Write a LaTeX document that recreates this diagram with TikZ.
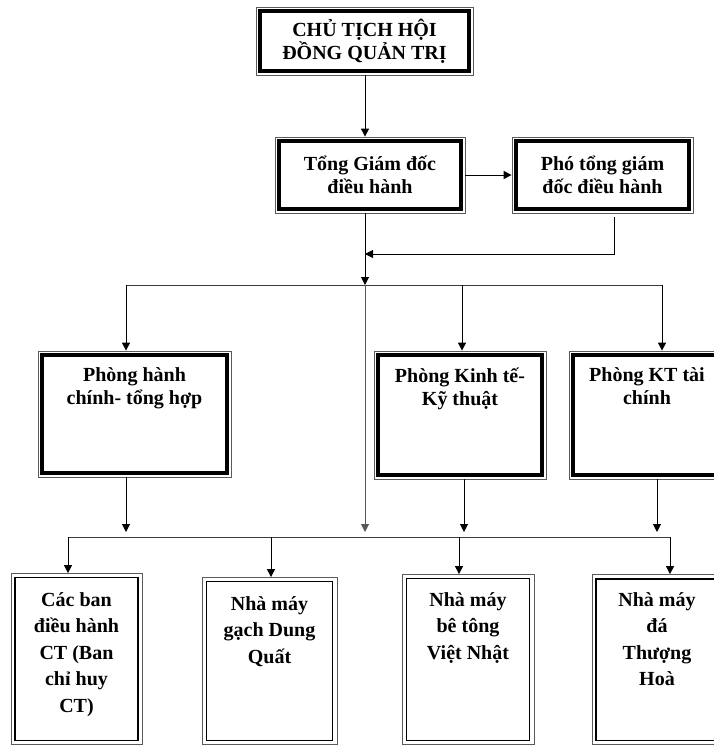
\documentclass[tikz,border=0pt]{standalone}
\usepackage{fontspec}
\setmainfont{Liberation Serif}
\usetikzlibrary{arrows.meta,positioning,calc}
\definecolor{frameG}{RGB}{90,90,90}
\definecolor{wireG}{RGB}{60,60,60}
% text at the top of a tall box
\newcommand{\toptext}[4]{\parbox[t][#1][t]{#2}{\centering\vspace*{#3}#4}}

\begin{document}
\begin{tikzpicture}[
  x=1pt, y=-1pt,
  font=\bfseries\fontsize{20}{23}\selectfont,
  frame/.style={draw=frameG, line width=0.8pt, inner sep=0pt, align=center},
  unit/.style={draw=frameG, line width=0.8pt, inner sep=0pt},
  arr/.style={-{Triangle[length=8pt,width=8pt]}, line width=1pt, draw=black},
  wire/.style={line width=1pt, draw=wireG}
]
\useasboundingbox (0,0) rectangle (714,747);

% management
\node[frame, minimum width=217, minimum height=68] (chair) at (364.5,41) {CHỦ TỊCH HỘI\\ĐỒNG QUẢN TRỊ};
\node[frame, minimum width=190, minimum height=76] (tgd) at (370,175) {Tổng Giám đốc\\điều hành};
\node[frame, minimum width=181, minimum height=76] (pho) at (602.5,175) {Phó tổng giám\\đốc điều hành};

% departments
\node[frame, minimum width=193, minimum height=126] (phc) at (134.5,414)
  {\toptext{126pt}{180pt}{17pt}{Phòng hành\\chính- tổng hợp}};
\node[frame, minimum width=172, minimum height=128] (ktkt) at (460,415)
  {\toptext{128pt}{160pt}{17pt}{Phòng Kinh tế-\\Kỹ thuật}};
\node[frame, minimum width=156, minimum height=128] (ktc) at (647,415)
  {\toptext{128pt}{146pt}{17pt}{Phòng KT tài\\chính}};

% units
\begin{scope}[font=\bfseries\fontsize{20}{26.5}\selectfont]
\node[unit, minimum width=131, minimum height=171] (ban) at (76.5,659)
  {\toptext{171pt}{122pt}{19pt}{Các ban\\điều hành\\CT (Ban\\chỉ huy\\CT)}};
\node[unit, minimum width=135, minimum height=167] (gach) at (269.5,661)
  {\toptext{167pt}{126pt}{19pt}{Nhà máy\\gạch Dung\\Quất}};
\node[unit, minimum width=132, minimum height=170] (betong) at (468,659.5)
  {\toptext{170pt}{122pt}{18pt}{Nhà máy\\bê tông\\Việt Nhật}};
\node[unit, minimum width=130, minimum height=170] (da) at (657,659.5)
  {\toptext{170pt}{120pt}{18pt}{Nhà máy\\đá\\Thượng\\Hoà}};
\end{scope}

% inner border lines
\foreach \n/\w in {chair/3.4,tgd/3.4,pho/3.4,phc/3.4,ktkt/3.4,ktc/3.4,ban/1.6,gach/0.9,betong/0.9,da/1.8}
  \draw[line width=\w pt] ([xshift=4.5pt,yshift=-4.5pt]\n.north west) rectangle ([xshift=-4.5pt,yshift=4.5pt]\n.south east);

% junctions
\coordinate (ret) at (365,254);
\coordinate (mid) at (365,285);
\coordinate (low) at (365,537);
\coordinate (h1w) at (126,285);
\coordinate (h1e) at (662,285);
\coordinate (h2w) at (68,537);
\coordinate (h2e) at (670,537);

% top part
\draw[arr] (chair.south -| mid) -- (tgd.north -| mid);
\draw[arr] (tgd.east) -- (pho.west);
\draw[arr] (tgd.south -| mid) -- (mid);
\draw[arr] ([xshift=11.5pt,yshift=-4pt]pho.south) |- (ret);

% first bus
\draw[wire] (h1w) -- (h1e);
\draw[arr] (h1w) -- (phc.north -| h1w);
\draw[arr] ([xshift=2pt]ktkt.north |- h1w) -- ([xshift=2pt]ktkt.north);
\draw[arr] (h1e) -- (ktc.north -| h1e);

% down to second bus
\draw[arr, draw=gray!70!black] (mid) -- ([yshift=5pt]low);
\draw[arr] (phc.south -| h1w) -- ([yshift=5pt]low -| h1w);
\draw[arr] ([xshift=4pt]ktkt.south) -- ([xshift=4pt,yshift=5pt]low -| ktkt.south);
\draw[arr] ([xshift=10pt]ktc.south) -- ([xshift=10pt,yshift=5pt]low -| ktc.south);

% second bus
\draw[wire] (h2w) -- (h2e);
\draw[arr] (h2w) -- (ban.north -| h2w);
\draw[arr] ([xshift=1.5pt]gach.north |- h2w) -- ([xshift=1.5pt]gach.north);
\draw[arr] ([xshift=-9pt]betong.north |- h2w) -- ([xshift=-9pt]betong.north);
\draw[arr] (h2e) -- (da.north -| h2e);
\end{tikzpicture}
\end{document}
